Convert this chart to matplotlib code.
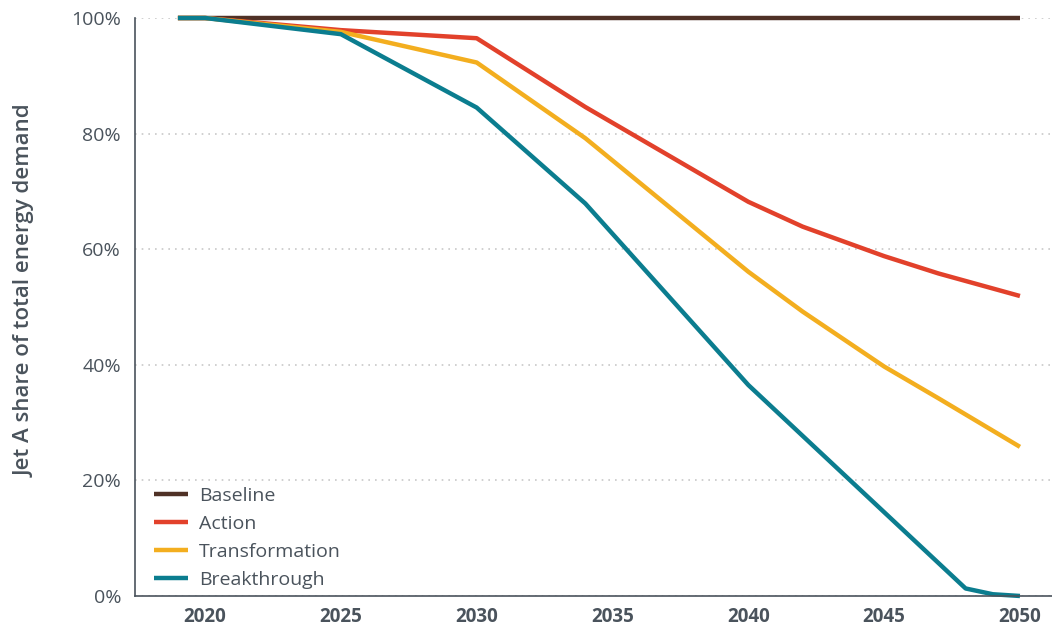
import matplotlib
matplotlib.use("Agg")
import matplotlib.pyplot as plt

years_base = [2019, 2020, 2025, 2030, 2034, 2040, 2045, 2050]
baseline = [100, 100, 100, 100, 100, 100, 100, 100]

years_action = [2019, 2020, 2025, 2030, 2034, 2040, 2042, 2045, 2047, 2050]
action = [100, 100, 97.9, 96.5, 84.6, 68.2, 63.9, 58.8, 55.8, 51.9]

years_trans = [2019, 2020, 2025, 2030, 2034, 2040, 2042, 2045, 2047, 2050]
transformation = [100, 100, 97.6, 92.3, 79.2, 56.1, 49.2, 39.7, 34.2, 25.8]

years_break = [2019, 2020, 2025, 2030, 2034, 2040, 2048, 2049, 2050]
breakthrough = [100, 100, 97.2, 84.5, 67.9, 36.5, 1.3, 0.3, 0.0]

xticks = [2020, 2025, 2030, 2035, 2040, 2045, 2050]
yticks = [0, 20, 40, 60, 80, 100]

colors = {
    "Baseline": "#4f3126",
    "Action": "#e2412b",
    "Transformation": "#f3ae1f",
    "Breakthrough": "#0b7d8f",
}
text_color = "#4a535c"
font = ["Open Sans", "DejaVu Sans"]

fig = plt.figure(figsize=(10.52, 6.29), dpi=100)
ax = fig.add_axes([0.1283, 0.0525, 0.8717, 0.9189])

series = [
    ("Baseline", years_base, baseline),
    ("Action", years_action, action),
    ("Transformation", years_trans, transformation),
    ("Breakthrough", years_break, breakthrough),
]
for name, xs, ys in series:
    ax.plot(xs, ys, color=colors[name], lw=3.2, label=name,
            solid_capstyle="butt", solid_joinstyle="round", clip_on=False)

ax.set_xlim(2017.42, 2051.18)
ax.set_ylim(0, 100)
ax.set_xticks(xticks)
ax.set_yticks(yticks)
ax.set_xticklabels([str(x) for x in xticks], fontsize=13.5, fontweight="bold",
                   color=text_color, family=font)
ax.set_yticklabels([f"{y}%" for y in yticks], fontsize=14,
                   color=text_color, family=font)
ax.tick_params(axis="both", length=0)
ax.tick_params(axis="x", pad=8)
ax.tick_params(axis="y", pad=10)

ax.grid(axis="y", color="#c8c8c8", linestyle=(0, (1, 3)), lw=1.2)
ax.set_axisbelow(True)
for s in ["top", "right"]:
    ax.spines[s].set_visible(False)
for s in ["left", "bottom"]:
    ax.spines[s].set_color("#4a535c")
    ax.spines[s].set_linewidth(1.2)

ax.set_ylabel("Jet A share of total energy demand", fontsize=16, fontweight="semibold",
              color=text_color, family=font, va="center")
ax.yaxis.set_label_coords(-0.12, 0.528)

leg = ax.legend(loc="upper left", bbox_to_anchor=(0.021, 0.189), frameon=False,
                handlelength=1.75, handletextpad=0.55, labelspacing=0.52,
                borderaxespad=0.0, borderpad=0.0,
                prop={"family": font, "size": 14})
for t in leg.get_texts():
    t.set_color(text_color)

fig.savefig("out.png", dpi=100)
